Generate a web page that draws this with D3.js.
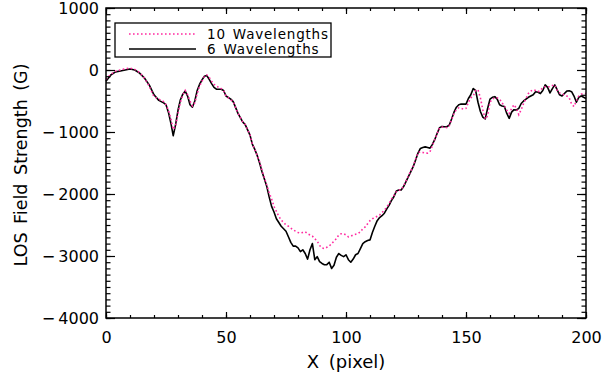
<!DOCTYPE html>
<html>
<head>
<meta charset="utf-8">
<script src="https://cdn.jsdelivr.net/npm/d3@7"></script>
<style>
  body { margin: 0; background: #fff; }
  svg text { font-family: "DejaVu Sans", sans-serif; fill: #000; }
</style>
</head>
<body>
<div id="chart"></div>
<script>
// ---------------- data ----------------
var pixelX = [0,2,4,6,8,10,12,14,16,18,20,22,24,25,26,27,28,29,30,31,32,33,34,35,36,37,38,39,40,41,42,43,44,45,46,48,49,50,52,53,55,57,58,60,61,62,63,64,65,66,67,68,69,70,71,72,73,74,75,76,77,78,79,80,81,82,83,84,85,86,87,88,89,90,91,92,93,94,95,96,97,98,99,100,101,102,103,104,105,106,107,108,109,110,111,112,113,114,115,116,117,118,119,120,121,122,123,124,125,126,127,128,129,130,131,132,133,134,135,136,137,138,139,140,141,142,143,144,145,146,147,148,149,150,151,152,153,154,155,156,157,158,159,160,161,162,163,164,165,166,167,168,169,170,171,172,173,174,175,176,177,178,179,180,181,182,183,184,185,186,187,188,189,190,191,192,193,194,195,196,197,198,199,200];

var sixWave = [-180,-80,-30,-15,0,15,0,-50,-130,-240,-400,-490,-530,-560,-680,-850,-1060,-880,-650,-480,-390,-340,-420,-560,-600,-500,-330,-230,-160,-100,-90,-150,-220,-280,-310,-310,-330,-420,-470,-510,-700,-840,-880,-1050,-1200,-1280,-1380,-1500,-1640,-1760,-1880,-2050,-2200,-2290,-2400,-2460,-2520,-2560,-2600,-2690,-2780,-2840,-2840,-2870,-2930,-2900,-2960,-3050,-2900,-2800,-3060,-3010,-3090,-3120,-3140,-3140,-3100,-3200,-3150,-3020,-2960,-2990,-3010,-2980,-3060,-3100,-3050,-2980,-2960,-2880,-2800,-2770,-2750,-2740,-2620,-2520,-2430,-2380,-2350,-2310,-2240,-2180,-2100,-2040,-1950,-1935,-1935,-1880,-1800,-1720,-1640,-1560,-1450,-1340,-1265,-1250,-1240,-1250,-1260,-1200,-1120,-1020,-930,-910,-915,-915,-890,-790,-680,-600,-560,-550,-550,-550,-460,-400,-300,-330,-520,-670,-760,-790,-620,-470,-440,-430,-470,-560,-580,-590,-700,-780,-680,-640,-645,-620,-540,-500,-470,-440,-420,-400,-350,-360,-380,-330,-240,-280,-370,-300,-240,-320,-400,-420,-380,-340,-335,-350,-420,-520,-440,-420,-440,-460];

var tenWave = [-150,-70,-20,0,20,30,10,-40,-130,-260,-430,-470,-510,-560,-650,-780,-960,-900,-700,-520,-400,-330,-400,-500,-580,-530,-380,-260,-180,-100,-80,-120,-180,-230,-260,-300,-330,-420,-480,-510,-700,-840,-880,-1050,-1200,-1280,-1380,-1480,-1620,-1740,-1860,-1980,-2080,-2200,-2280,-2360,-2420,-2460,-2500,-2520,-2550,-2580,-2600,-2620,-2630,-2620,-2610,-2640,-2660,-2680,-2720,-2760,-2830,-2870,-2880,-2860,-2840,-2800,-2760,-2720,-2660,-2640,-2640,-2660,-2690,-2680,-2660,-2650,-2640,-2610,-2560,-2530,-2480,-2430,-2400,-2380,-2360,-2340,-2300,-2260,-2210,-2150,-2080,-2020,-1960,-1940,-1930,-1870,-1790,-1710,-1630,-1550,-1440,-1330,-1320,-1330,-1340,-1340,-1320,-1220,-1120,-1020,-930,-920,-920,-930,-900,-800,-700,-640,-610,-620,-630,-620,-520,-450,-420,-330,-320,-450,-640,-790,-740,-520,-470,-450,-450,-470,-530,-580,-650,-700,-620,-560,-620,-720,-640,-540,-460,-380,-340,-320,-330,-350,-330,-280,-270,-270,-270,-250,-240,-330,-370,-390,-400,-420,-450,-550,-590,-500,-420,-390,-380,-380];

var xTicks = [0, 50, 100, 150, 200];
var yTicks = [1000, 0, -1000, -2000, -3000, -4000];
var legendLabels = ["10 Wavelengths", "6 Wavelengths"];

// ---------------- layout ----------------
var totalWidth = 608, totalHeight = 377;
var margin = {top: 8, right: 22, bottom: 59, left: 106};
var width = totalWidth - margin.left - margin.right;   // 480
var height = totalHeight - margin.top - margin.bottom; // 310

var svg = d3.select("#chart").append("svg")
  .attr("width", totalWidth)
  .attr("height", totalHeight);

var g = svg.append("g").attr("transform", "translate(" + margin.left + "," + margin.top + ")");

var xScale = d3.scaleLinear().domain([0, 200]).range([0, width]);
var yScale = d3.scaleLinear().domain([-4000, 1000]).range([height, 0]);

var pink = "#ff2aa0";

// ---------------- curves ----------------
var line = function(vals) {
  return d3.line()
    .x(function(d, i) { return xScale(pixelX[i]); })
    .y(function(d) { return yScale(d); })(vals);
};

g.append("path")
  .attr("d", line(sixWave))
  .attr("fill", "none")
  .attr("stroke", "#000")
  .attr("stroke-width", 1.6)
  .attr("stroke-linejoin", "round");

g.append("path")
  .attr("d", line(tenWave))
  .attr("fill", "none")
  .attr("stroke", pink)
  .attr("stroke-width", 1.6)
  .attr("stroke-dasharray", "1.6,2.4");

// ---------------- axes (IDL style box) ----------------
var xMinor = d3.range(0, 201, 10);
var yMinor = d3.range(-4000, 1001, 100);

// bottom
g.append("g").attr("transform", "translate(0," + height + ")")
  .call(d3.axisBottom(xScale).tickValues(xMinor).tickSize(-3).tickFormat(""))
  .call(function(a) { a.select(".domain").remove(); });
g.append("g").attr("transform", "translate(0," + height + ")")
  .call(d3.axisBottom(xScale).tickValues(xTicks).tickSize(-6).tickPadding(14).tickFormat(d3.format("d")))
  .call(function(a) { a.select(".domain").remove(); a.selectAll("text").attr("font-size", 16); });
// top
g.append("g")
  .call(d3.axisTop(xScale).tickValues(xMinor).tickSize(-3).tickFormat(""))
  .call(function(a) { a.select(".domain").remove(); });
g.append("g")
  .call(d3.axisTop(xScale).tickValues(xTicks).tickSize(-6).tickFormat(""))
  .call(function(a) { a.select(".domain").remove(); });
// left
g.append("g")
  .call(d3.axisLeft(yScale).tickValues(yMinor).tickSize(-4.5).tickFormat(""))
  .call(function(a) { a.select(".domain").remove(); });
g.append("g")
  .call(d3.axisLeft(yScale).tickValues(yTicks).tickSize(-9).tickPadding(7)
    .tickFormat(function(d) { return d < 0 ? "\u2212\u2009" + Math.abs(d) : d; }))
  .call(function(a) { a.select(".domain").remove(); a.selectAll("text").attr("font-size", 16).attr("dy", "0.36em"); });
// right
g.append("g").attr("transform", "translate(" + width + ",0)")
  .call(d3.axisRight(yScale).tickValues(yMinor).tickSize(-4.5).tickFormat(""))
  .call(function(a) { a.select(".domain").remove(); });
g.append("g").attr("transform", "translate(" + width + ",0)")
  .call(d3.axisRight(yScale).tickValues(yTicks).tickSize(-9).tickFormat(""))
  .call(function(a) { a.select(".domain").remove(); });

g.selectAll(".tick line").attr("stroke", "#000").attr("stroke-width", 1.2);

g.append("rect")
  .attr("width", width).attr("height", height)
  .attr("fill", "none").attr("stroke", "#000").attr("stroke-width", 1.5);

// ---------------- axis titles ----------------
svg.append("text")
  .attr("x", xScale(100) + margin.left)
  .attr("y", 368)
  .attr("text-anchor", "middle")
  .attr("font-size", 18)
  .attr("word-spacing", 4)
  .text("X (pixel)");

svg.append("text")
  .attr("transform", "translate(27,165) rotate(-90)")
  .attr("text-anchor", "middle")
  .attr("font-size", 17.5)
  .attr("word-spacing", 3)
  .text("LOS Field Strength (G)");

// ---------------- legend ----------------
var legend = svg.append("g").attr("transform", "translate(115,23)");
legend.append("rect")
  .attr("width", 216).attr("height", 34)
  .attr("fill", "#fff").attr("stroke", "#000").attr("stroke-width", 1.3);

var legendStyles = [
  {color: pink, dash: "1.6,2.4"},
  {color: "#000", dash: null}
];
legendLabels.forEach(function(lbl, i) {
  var y = 11 + i * 15;
  legend.append("line")
    .attr("x1", 14).attr("x2", 81).attr("y1", y).attr("y2", y)
    .attr("stroke", legendStyles[i].color).attr("stroke-width", 1.5)
    .attr("stroke-dasharray", legendStyles[i].dash);
  legend.append("text")
    .attr("x", 92).attr("y", y + 5)
    .attr("font-size", 13.5)
    .attr("letter-spacing", 0.8)
    .attr("word-spacing", 2)
    .text(lbl);
});
</script>
</body>
</html>
